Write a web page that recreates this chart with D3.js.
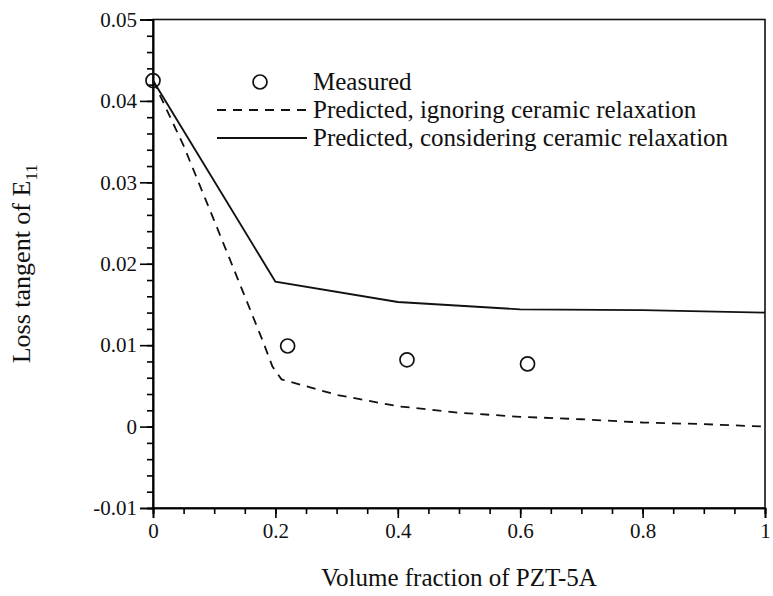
<!DOCTYPE html>
<html>
<head>
<meta charset="utf-8">
<script src="https://cdn.jsdelivr.net/npm/d3@7"></script>
<style>
  body { margin: 0; background: #fff; }
  text { font-family: "Liberation Serif", "Times New Roman", serif; fill: #111; }
</style>
</head>
<body>
<div id="chart"></div>
<script>
// measured points
const measuredX = [0, 0.22, 0.415, 0.612];
const measuredY = [0.0425, 0.0099, 0.0082, 0.0077];

// predicted, ignoring ceramic relaxation (dashed)
const ignoreX = [0, 0.05, 0.1, 0.15, 0.18, 0.195, 0.21, 0.3, 0.4, 0.5, 0.6, 0.7, 0.8, 0.9, 1.0];
const ignoreY = [0.0425, 0.0345, 0.0253, 0.016, 0.0104, 0.0074, 0.0058, 0.0039, 0.0025, 0.0017, 0.0012, 0.0009, 0.0005, 0.0003, 0.0];

// predicted, considering ceramic relaxation (solid)
const considerX = [0, 0.2, 0.4, 0.6, 0.8, 1.0];
const considerY = [0.0425, 0.0178, 0.0153, 0.0144, 0.0143, 0.0140];

const xTicks = [0, 0.2, 0.4, 0.6, 0.8, 1];
const yTicks = [-0.01, 0, 0.01, 0.02, 0.03, 0.04, 0.05];
const legendLabels = ["Measured", "Predicted, ignoring ceramic relaxation", "Predicted, considering ceramic relaxation"];

const width = 773, height = 596;
const margin = {top: 19.5, right: 8, bottom: 88, left: 153};

const svg = d3.select("#chart").append("svg")
    .attr("width", width)
    .attr("height", height);

const x = d3.scaleLinear().domain([0, 1]).range([margin.left, width - margin.right]);
const y = d3.scaleLinear().domain([-0.01, 0.05]).range([height - margin.bottom, margin.top]);

// frame (top and right lines, no ticks)
svg.append("rect")
    .attr("x", x(0)).attr("y", y(0.05))
    .attr("width", x(1) - x(0)).attr("height", y(-0.01) - y(0.05))
    .attr("fill", "none").attr("stroke", "#111").attr("stroke-width", 1.6);

// x axis: major + minor ticks
const xAxis = svg.append("g").attr("transform", `translate(0,${y(-0.01)})`);
xAxis.call(d3.axisBottom(x).tickValues(d3.range(0, 1.0001, 0.05)).tickSize(6).tickFormat(""));
xAxis.call(g => g.append("g").call(d3.axisBottom(x).tickValues(xTicks).tickSize(10).tickPadding(5)
    .tickFormat(d => d3.format("")(d))));
xAxis.selectAll(".domain").attr("stroke-width", 1.6);
xAxis.selectAll("line").attr("stroke-width", 1.6);
xAxis.selectAll("text").style("font-size", "21px").attr("fill", "#111");

// y axis
const yAxis = svg.append("g").attr("transform", `translate(${x(0)},0)`);
yAxis.call(d3.axisLeft(y).tickValues(d3.range(-0.01, 0.05001, 0.002)).tickSize(6).tickFormat(""));
yAxis.call(g => g.append("g").call(d3.axisLeft(y).tickValues(yTicks).tickSize(13).tickPadding(3)
    .tickFormat(d => d === 0 ? "0" : d3.format(".2f")(d).replace("−", "-"))));
yAxis.selectAll(".domain").attr("stroke-width", 1.6);
yAxis.selectAll("line").attr("stroke-width", 1.6);
yAxis.selectAll("text").style("font-size", "21px").attr("fill", "#111");

// lines
const line = d3.line().x(d => x(d[0])).y(d => y(d[1]));

svg.append("path")
    .datum(d3.zip(ignoreX, ignoreY))
    .attr("d", line)
    .attr("fill", "none").attr("stroke", "#111").attr("stroke-width", 1.8)
    .attr("stroke-dasharray", "9,7");

svg.append("path")
    .datum(d3.zip(considerX, considerY))
    .attr("d", line)
    .attr("fill", "none").attr("stroke", "#111").attr("stroke-width", 1.9);

// measured circles
svg.selectAll(".meas")
    .data(d3.zip(measuredX, measuredY))
    .join("circle")
    .attr("class", "meas")
    .attr("cx", d => x(d[0])).attr("cy", d => y(d[1]))
    .attr("r", 7)
    .attr("fill", "none").attr("stroke", "#111").attr("stroke-width", 1.7);

// legend
const lg = svg.append("g");
const rowY = [82, 110, 138];
lg.append("circle").attr("cx", 260).attr("cy", rowY[0]).attr("r", 7)
    .attr("fill", "none").attr("stroke", "#111").attr("stroke-width", 1.7);
lg.append("line").attr("x1", 217).attr("x2", 307).attr("y1", rowY[1]).attr("y2", rowY[1])
    .attr("stroke", "#111").attr("stroke-width", 1.8).attr("stroke-dasharray", "9,7");
lg.append("line").attr("x1", 217).attr("x2", 307).attr("y1", rowY[2]).attr("y2", rowY[2])
    .attr("stroke", "#111").attr("stroke-width", 1.9);
lg.selectAll(".lt")
    .data(legendLabels)
    .join("text")
    .attr("class", "lt")
    .attr("x", 313)
    .attr("y", (d, i) => rowY[i] + 8)
    .style("font-size", "25px")
    .text(d => d);

// axis titles
svg.append("text")
    .attr("x", x(0.5)).attr("y", 586)
    .attr("text-anchor", "middle")
    .style("font-size", "25px")
    .text("Volume fraction of PZT-5A");

const yt = svg.append("text")
    .attr("transform", `translate(30,${(y(0.05) + y(-0.01)) / 2}) rotate(-90)`)
    .attr("text-anchor", "middle")
    .style("font-size", "26px");
yt.append("tspan").text("Loss tangent of E");
yt.append("tspan").attr("dy", 7).style("font-size", "17px").text("11");
</script>
</body>
</html>
